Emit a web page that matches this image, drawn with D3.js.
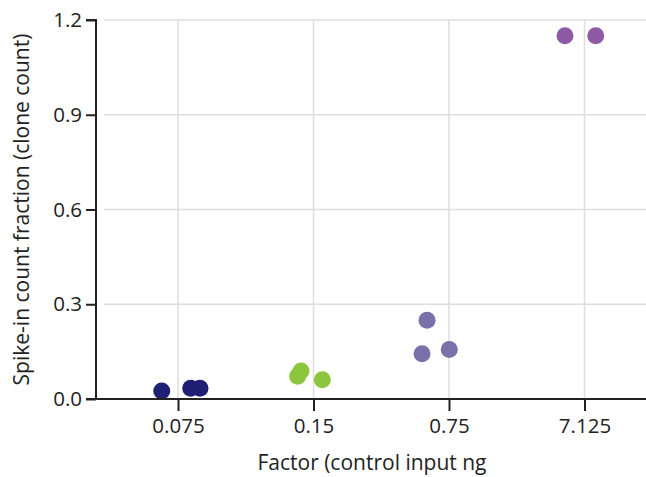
<!DOCTYPE html>
<html><head><meta charset="utf-8">
<script src="https://cdn.jsdelivr.net/npm/d3@7"></script>
<style>
html,body{margin:0;padding:0;background:#fff;}
text{font-family:"Open Sans",sans-serif;fill:#222;}
</style></head>
<body><svg id="c" width="646" height="477"></svg>
<script>
const categories = ["0.075", "0.15", "0.75", "7.125"];
const pointCategory = ["0.075","0.075","0.075","0.15","0.15","0.15","0.75","0.75","0.75","7.125","7.125"];
const pointValue = [0.025, 0.034, 0.034, 0.072, 0.089, 0.061, 0.249, 0.143, 0.157, 1.150, 1.150];
const pointJitter = [-0.120, 0.094, 0.162, -0.117, -0.092, 0.065, -0.162, -0.199, 0.002, -0.144, 0.083];
const colors = {"0.075":"#1f1f73","0.15":"#8cc63e","0.75":"#7a70aa","7.125":"#8e5aa5"};
const yTicks = [0, 0.3, 0.6, 0.9, 1.2];

const svg = d3.select("#c");
const x = d3.scalePoint().domain(categories).range([178, 584.5]);
const y = d3.scaleLinear().domain([0, 1.2]).range([399, 20]);
const axisLeftX = 96, gridStart = 104, rightEdge = 646;
const fs = "20.5px";

// gridlines
svg.append("g").selectAll("line.h").data(yTicks.filter(d => d > 0)).join("line")
  .attr("x1", gridStart).attr("x2", rightEdge)
  .attr("y1", d => y(d)).attr("y2", d => y(d))
  .attr("stroke", "#dedede").attr("stroke-width", 1.5);
svg.append("g").selectAll("line.v").data(categories).join("line")
  .attr("x1", d => x(d)).attr("x2", d => x(d))
  .attr("y1", y(1.2)).attr("y2", y(0))
  .attr("stroke", "#dedede").attr("stroke-width", 1.5);

// points
svg.append("g").selectAll("circle").data(pointValue).join("circle")
  .attr("cx", (d, i) => x(pointCategory[i]) + pointJitter[i] * x.step())
  .attr("cy", d => y(d))
  .attr("r", 8.5)
  .attr("fill", (d, i) => colors[pointCategory[i]]);

// y axis
const ya = svg.append("g").attr("transform", `translate(${axisLeftX},0)`)
  .call(d3.axisLeft(y).tickValues(yTicks).tickFormat(d3.format(".1f")).tickSize(10).tickPadding(4));
ya.select(".domain").attr("stroke", "#222").attr("stroke-width", 2).attr("d", `M-10,${y(1.2)}H0V${y(0)}`);
ya.selectAll(".tick line").attr("stroke", "#222").attr("stroke-width", 2);
ya.selectAll(".tick text").style("font-size", fs).style("font-family", "'Open Sans',sans-serif").attr("fill", "#222");

// x axis
const xa = svg.append("g").attr("transform", `translate(0,${y(0)})`)
  .call(d3.axisBottom(x).tickSize(12).tickPadding(7));
xa.select(".domain").attr("stroke", "#222").attr("stroke-width", 2).attr("d", `M${axisLeftX - 10},0H${rightEdge}`);
xa.selectAll(".tick line").attr("stroke", "#222").attr("stroke-width", 2);
xa.selectAll(".tick text").style("font-size", fs).style("font-family", "'Open Sans',sans-serif").attr("fill", "#222");

// titles
svg.append("text").attr("x", 372).attr("y", 470).attr("text-anchor", "middle")
  .style("font-size", "21px").text("Factor (control input ng");
svg.append("text").attr("transform", `translate(29,${(y(0) + y(1.2)) / 2}) rotate(-90)`)
  .attr("text-anchor", "middle").style("font-size", "21px")
  .text("Spike-in count fraction (clone count)");
</script></body></html>
